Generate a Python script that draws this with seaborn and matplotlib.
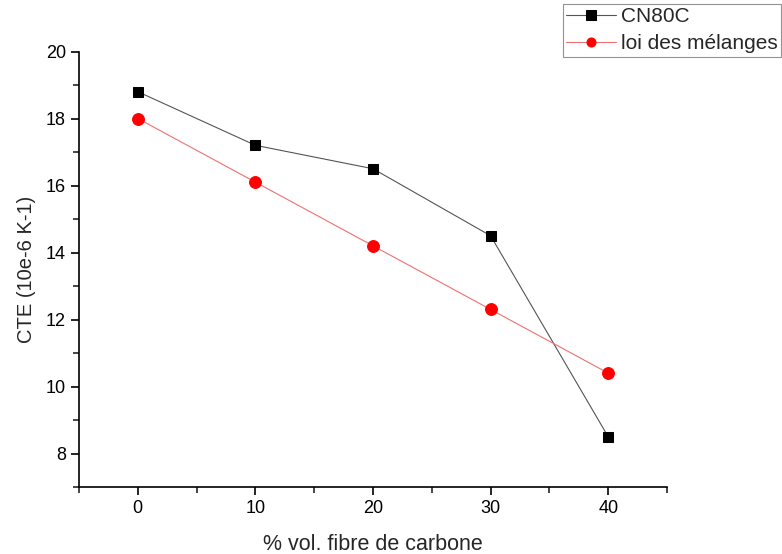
import matplotlib
matplotlib.use("Agg")
import matplotlib.pyplot as plt
import seaborn as sns
import pandas as pd
from matplotlib.ticker import MultipleLocator

# data
fibre_pct = [0, 10, 20, 30, 40]
cte_cn80c = [18.8, 17.2, 16.5, 14.5, 8.5]
cte_melanges = [18.0, 16.1, 14.2, 12.3, 10.4]

sns.set_style("ticks")
plt.rcParams["font.family"] = ["Liberation Sans", "DejaVu Sans"]

df = pd.DataFrame({"x": fibre_pct, "cn80c": cte_cn80c, "melanges": cte_melanges})

fig = plt.figure(figsize=(7.82, 5.54), dpi=100)
ax = fig.add_axes([79 / 782, 1 - 487 / 554, (667 - 79) / 782, (487 - 51.5) / 554])

sns.lineplot(data=df, x="x", y="cn80c", ax=ax, color="#555555", linewidth=0.8,
             marker="s", markersize=7, markerfacecolor="black", markeredgecolor="black",
             label="CN80C")
sns.lineplot(data=df, x="x", y="melanges", ax=ax, color="#f07070", linewidth=0.8,
             marker="o", markersize=8.5, markerfacecolor="red", markeredgecolor="red",
             label="loi des mélanges")

ax.set_xlim(-5, 45)
ax.set_ylim(7, 20)
ax.xaxis.set_major_locator(MultipleLocator(10))
ax.xaxis.set_minor_locator(MultipleLocator(5))
ax.yaxis.set_major_locator(MultipleLocator(2))
ax.yaxis.set_minor_locator(MultipleLocator(1))
ax.tick_params(which="major", length=6, width=1.2, labelsize=13, colors="black")
ax.tick_params(which="minor", length=4, width=1.2)
for s in ["left", "bottom"]:
    ax.spines[s].set_linewidth(1.2)
    ax.spines[s].set_color("black")
sns.despine(ax=ax)

ax.set_xlabel("% vol. fibre de carbone", fontsize=15.5, labelpad=12)
ax.set_ylabel("CTE (10e-6 K-1)", fontsize=14.5, labelpad=7)

handles, labels = ax.get_legend_handles_labels()
ax.get_legend().remove()
leg = fig.legend(handles, labels, loc="upper left", bbox_to_anchor=(563 / 782, 1 - 4 / 554),
                 frameon=True, fancybox=False, edgecolor="#777777", fontsize=15,
                 borderpad=0.15, handlelength=2.4, labelspacing=0.4, borderaxespad=0,
                 handletextpad=0.25)
leg.get_frame().set_linewidth(0.8)
for h in leg.legend_handles:
    h.set_markersize(6.5)

fig.savefig("out.png", dpi=100)
